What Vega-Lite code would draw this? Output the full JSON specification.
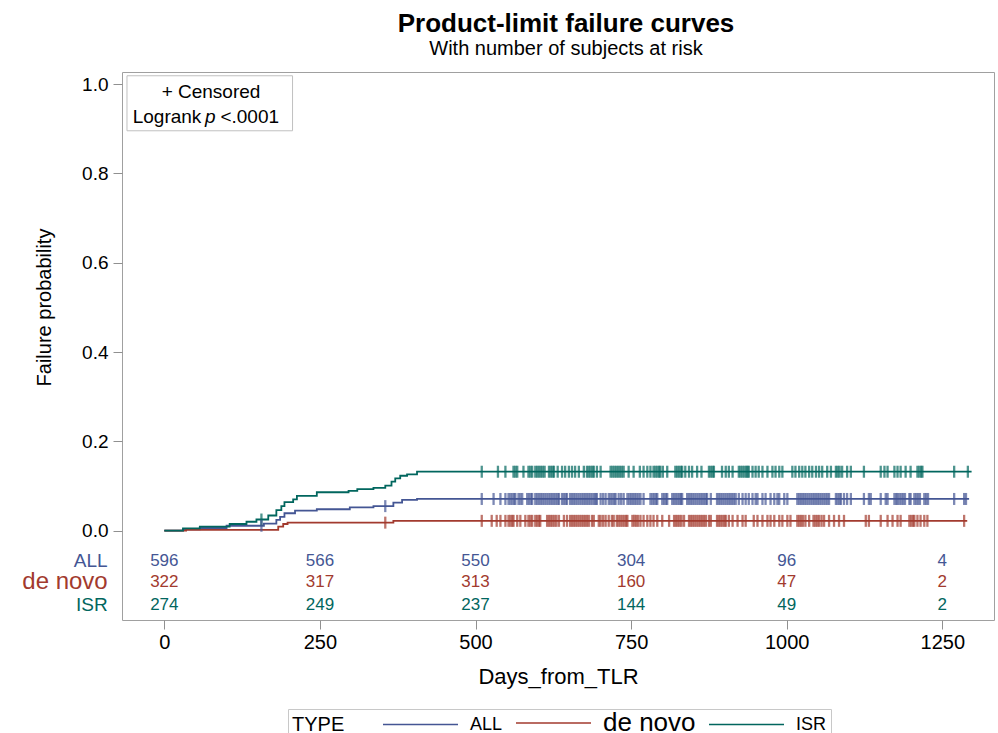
{
  "$schema": "https://vega.github.io/schema/vega-lite/v6.json",
  "autosize": {"type": "none"},
  "padding": {"left": 122, "top": 72, "right": 4, "bottom": 113},
  "width": 872,
  "height": 548,
  "background": "white",
  "title": {
    "text": "Product-limit failure curves",
    "subtitle": "With number of subjects at risk",
    "anchor": "middle",
    "fontSize": 26,
    "fontWeight": "bold",
    "subtitleFontSize": 20,
    "subtitleColor": "black",
    "color": "black",
    "subtitlePadding": 2,
    "offset": 13,
    "dx": 8
  },
  "datasets": {
    "curve": [
      {"g": "ALL", "t": 0, "p": 0}, {"g": "ALL", "t": 30, "p": 0.003}, {"g": "ALL", "t": 57, "p": 0.006},
      {"g": "ALL", "t": 100, "p": 0.011}, {"g": "ALL", "t": 160, "p": 0.016}, {"g": "ALL", "t": 180, "p": 0.024},
      {"g": "ALL", "t": 186, "p": 0.031}, {"g": "ALL", "t": 193, "p": 0.039}, {"g": "ALL", "t": 210, "p": 0.045},
      {"g": "ALL", "t": 245, "p": 0.048}, {"g": "ALL", "t": 298, "p": 0.052}, {"g": "ALL", "t": 336, "p": 0.055},
      {"g": "ALL", "t": 368, "p": 0.063}, {"g": "ALL", "t": 382, "p": 0.069}, {"g": "ALL", "t": 406, "p": 0.071},
      {"g": "ALL", "t": 1293, "p": 0.071},
      {"g": "de novo", "t": 0, "p": 0}, {"g": "de novo", "t": 35, "p": 0.002}, {"g": "de novo", "t": 183, "p": 0.009},
      {"g": "de novo", "t": 191, "p": 0.015}, {"g": "de novo", "t": 198, "p": 0.018}, {"g": "de novo", "t": 368, "p": 0.022},
      {"g": "de novo", "t": 1290, "p": 0.022},
      {"g": "ISR", "t": 0, "p": 0}, {"g": "ISR", "t": 30, "p": 0.005}, {"g": "ISR", "t": 57, "p": 0.009},
      {"g": "ISR", "t": 105, "p": 0.015}, {"g": "ISR", "t": 132, "p": 0.02}, {"g": "ISR", "t": 148, "p": 0.025},
      {"g": "ISR", "t": 167, "p": 0.034}, {"g": "ISR", "t": 180, "p": 0.046}, {"g": "ISR", "t": 188, "p": 0.055},
      {"g": "ISR", "t": 193, "p": 0.064}, {"g": "ISR", "t": 207, "p": 0.07}, {"g": "ISR", "t": 213, "p": 0.078},
      {"g": "ISR", "t": 245, "p": 0.086}, {"g": "ISR", "t": 296, "p": 0.089}, {"g": "ISR", "t": 310, "p": 0.093},
      {"g": "ISR", "t": 336, "p": 0.096}, {"g": "ISR", "t": 355, "p": 0.101}, {"g": "ISR", "t": 365, "p": 0.11},
      {"g": "ISR", "t": 371, "p": 0.117}, {"g": "ISR", "t": 379, "p": 0.123}, {"g": "ISR", "t": 390, "p": 0.126},
      {"g": "ISR", "t": 406, "p": 0.132}, {"g": "ISR", "t": 1297, "p": 0.132}
    ],
    "censor": [
      {"g":"ISR","t":156,"p":0.025},
      {"g":"ISR","t":510,"p":0.132},{"g":"ISR","t":536,"p":0.132},{"g":"ISR","t":548,"p":0.132},{"g":"ISR","t":561,"p":0.132},{"g":"ISR","t":564,"p":0.132},{"g":"ISR","t":567,"p":0.132},{"g":"ISR","t":577,"p":0.132},{"g":"ISR","t":585,"p":0.132},{"g":"ISR","t":588,"p":0.132},{"g":"ISR","t":591,"p":0.132},
      {"g":"ISR","t":596,"p":0.132},{"g":"ISR","t":599,"p":0.132},{"g":"ISR","t":602,"p":0.132},{"g":"ISR","t":605,"p":0.132},{"g":"ISR","t":608,"p":0.132},{"g":"ISR","t":611,"p":0.132},{"g":"ISR","t":618,"p":0.132},{"g":"ISR","t":621,"p":0.132},{"g":"ISR","t":624,"p":0.132},{"g":"ISR","t":626,"p":0.132},
      {"g":"ISR","t":632,"p":0.132},{"g":"ISR","t":639,"p":0.132},{"g":"ISR","t":644,"p":0.132},{"g":"ISR","t":650,"p":0.132},{"g":"ISR","t":655,"p":0.132},{"g":"ISR","t":660,"p":0.132},{"g":"ISR","t":666,"p":0.132},{"g":"ISR","t":674,"p":0.132},{"g":"ISR","t":679,"p":0.132},{"g":"ISR","t":682,"p":0.132},
      {"g":"ISR","t":685,"p":0.132},{"g":"ISR","t":688,"p":0.132},{"g":"ISR","t":690,"p":0.132},{"g":"ISR","t":695,"p":0.132},{"g":"ISR","t":701,"p":0.132},{"g":"ISR","t":717,"p":0.132},{"g":"ISR","t":720,"p":0.132},{"g":"ISR","t":723,"p":0.132},{"g":"ISR","t":726,"p":0.132},{"g":"ISR","t":729,"p":0.132},
      {"g":"ISR","t":732,"p":0.132},{"g":"ISR","t":735,"p":0.132},{"g":"ISR","t":738,"p":0.132},{"g":"ISR","t":746,"p":0.132},{"g":"ISR","t":754,"p":0.132},{"g":"ISR","t":764,"p":0.132},{"g":"ISR","t":770,"p":0.132},{"g":"ISR","t":776,"p":0.132},{"g":"ISR","t":781,"p":0.132},{"g":"ISR","t":786,"p":0.132},
      {"g":"ISR","t":789,"p":0.132},{"g":"ISR","t":792,"p":0.132},{"g":"ISR","t":795,"p":0.132},{"g":"ISR","t":797,"p":0.132},{"g":"ISR","t":801,"p":0.132},{"g":"ISR","t":808,"p":0.132},{"g":"ISR","t":821,"p":0.132},{"g":"ISR","t":824,"p":0.132},{"g":"ISR","t":827,"p":0.132},{"g":"ISR","t":830,"p":0.132},
      {"g":"ISR","t":832,"p":0.132},{"g":"ISR","t":837,"p":0.132},{"g":"ISR","t":843,"p":0.132},{"g":"ISR","t":848,"p":0.132},{"g":"ISR","t":856,"p":0.132},{"g":"ISR","t":863,"p":0.132},{"g":"ISR","t":875,"p":0.132},{"g":"ISR","t":878,"p":0.132},{"g":"ISR","t":881,"p":0.132},{"g":"ISR","t":883,"p":0.132},
      {"g":"ISR","t":896,"p":0.132},{"g":"ISR","t":902,"p":0.132},{"g":"ISR","t":907,"p":0.132},{"g":"ISR","t":913,"p":0.132},{"g":"ISR","t":923,"p":0.132},{"g":"ISR","t":926,"p":0.132},{"g":"ISR","t":929,"p":0.132},{"g":"ISR","t":932,"p":0.132},{"g":"ISR","t":935,"p":0.132},{"g":"ISR","t":937,"p":0.132},
      {"g":"ISR","t":939,"p":0.132},{"g":"ISR","t":945,"p":0.132},{"g":"ISR","t":950,"p":0.132},{"g":"ISR","t":955,"p":0.132},{"g":"ISR","t":961,"p":0.132},{"g":"ISR","t":969,"p":0.132},{"g":"ISR","t":977,"p":0.132},{"g":"ISR","t":982,"p":0.132},{"g":"ISR","t":988,"p":0.132},{"g":"ISR","t":993,"p":0.132},
      {"g":"ISR","t":1009,"p":0.132},{"g":"ISR","t":1014,"p":0.132},{"g":"ISR","t":1020,"p":0.132},{"g":"ISR","t":1025,"p":0.132},{"g":"ISR","t":1030,"p":0.132},{"g":"ISR","t":1036,"p":0.132},{"g":"ISR","t":1041,"p":0.132},{"g":"ISR","t":1047,"p":0.132},{"g":"ISR","t":1052,"p":0.132},{"g":"ISR","t":1057,"p":0.132},
      {"g":"ISR","t":1065,"p":0.132},{"g":"ISR","t":1071,"p":0.132},{"g":"ISR","t":1079,"p":0.132},{"g":"ISR","t":1082,"p":0.132},{"g":"ISR","t":1085,"p":0.132},{"g":"ISR","t":1089,"p":0.132},{"g":"ISR","t":1097,"p":0.132},{"g":"ISR","t":1103,"p":0.132},{"g":"ISR","t":1124,"p":0.132},{"g":"ISR","t":1151,"p":0.132},
      {"g":"ISR","t":1157,"p":0.132},{"g":"ISR","t":1162,"p":0.132},{"g":"ISR","t":1173,"p":0.132},{"g":"ISR","t":1178,"p":0.132},{"g":"ISR","t":1183,"p":0.132},{"g":"ISR","t":1191,"p":0.132},{"g":"ISR","t":1199,"p":0.132},{"g":"ISR","t":1210,"p":0.132},{"g":"ISR","t":1213,"p":0.132},{"g":"ISR","t":1216,"p":0.132},
      {"g":"ISR","t":1218,"p":0.132},{"g":"ISR","t":1269,"p":0.132},{"g":"ISR","t":1291,"p":0.132},
      {"g":"ALL","t":156,"p":0.011},{"g":"ALL","t":355,"p":0.055},
      {"g":"ALL","t":510,"p":0.071},{"g":"ALL","t":529,"p":0.071},{"g":"ALL","t":540,"p":0.071},{"g":"ALL","t":548,"p":0.071},{"g":"ALL","t":553,"p":0.071},{"g":"ALL","t":556,"p":0.071},{"g":"ALL","t":559,"p":0.071},{"g":"ALL","t":562,"p":0.071},{"g":"ALL","t":564,"p":0.071},{"g":"ALL","t":569,"p":0.071},
      {"g":"ALL","t":572,"p":0.071},{"g":"ALL","t":575,"p":0.071},{"g":"ALL","t":583,"p":0.071},{"g":"ALL","t":586,"p":0.071},{"g":"ALL","t":589,"p":0.071},{"g":"ALL","t":591,"p":0.071},{"g":"ALL","t":596,"p":0.071},{"g":"ALL","t":599,"p":0.071},{"g":"ALL","t":602,"p":0.071},{"g":"ALL","t":605,"p":0.071},
      {"g":"ALL","t":608,"p":0.071},{"g":"ALL","t":611,"p":0.071},{"g":"ALL","t":614,"p":0.071},{"g":"ALL","t":617,"p":0.071},{"g":"ALL","t":620,"p":0.071},{"g":"ALL","t":623,"p":0.071},{"g":"ALL","t":626,"p":0.071},{"g":"ALL","t":629,"p":0.071},{"g":"ALL","t":632,"p":0.071},{"g":"ALL","t":634,"p":0.071},
      {"g":"ALL","t":639,"p":0.071},{"g":"ALL","t":642,"p":0.071},{"g":"ALL","t":645,"p":0.071},{"g":"ALL","t":647,"p":0.071},{"g":"ALL","t":652,"p":0.071},{"g":"ALL","t":655,"p":0.071},{"g":"ALL","t":658,"p":0.071},{"g":"ALL","t":661,"p":0.071},{"g":"ALL","t":664,"p":0.071},{"g":"ALL","t":667,"p":0.071},
      {"g":"ALL","t":670,"p":0.071},{"g":"ALL","t":673,"p":0.071},{"g":"ALL","t":676,"p":0.071},{"g":"ALL","t":679,"p":0.071},{"g":"ALL","t":682,"p":0.071},{"g":"ALL","t":685,"p":0.071},{"g":"ALL","t":688,"p":0.071},{"g":"ALL","t":691,"p":0.071},{"g":"ALL","t":693,"p":0.071},{"g":"ALL","t":695,"p":0.071},
      {"g":"ALL","t":701,"p":0.071},{"g":"ALL","t":705,"p":0.071},{"g":"ALL","t":709,"p":0.071},{"g":"ALL","t":714,"p":0.071},{"g":"ALL","t":717,"p":0.071},{"g":"ALL","t":720,"p":0.071},{"g":"ALL","t":723,"p":0.071},{"g":"ALL","t":725,"p":0.071},{"g":"ALL","t":730,"p":0.071},{"g":"ALL","t":734,"p":0.071},
      {"g":"ALL","t":738,"p":0.071},{"g":"ALL","t":744,"p":0.071},{"g":"ALL","t":747,"p":0.071},{"g":"ALL","t":750,"p":0.071},{"g":"ALL","t":753,"p":0.071},{"g":"ALL","t":756,"p":0.071},{"g":"ALL","t":759,"p":0.071},{"g":"ALL","t":762,"p":0.071},{"g":"ALL","t":765,"p":0.071},{"g":"ALL","t":770,"p":0.071},
      {"g":"ALL","t":781,"p":0.071},{"g":"ALL","t":784,"p":0.071},{"g":"ALL","t":787,"p":0.071},{"g":"ALL","t":790,"p":0.071},{"g":"ALL","t":792,"p":0.071},{"g":"ALL","t":800,"p":0.071},{"g":"ALL","t":803,"p":0.071},{"g":"ALL","t":806,"p":0.071},{"g":"ALL","t":808,"p":0.071},{"g":"ALL","t":816,"p":0.071},
      {"g":"ALL","t":819,"p":0.071},{"g":"ALL","t":822,"p":0.071},{"g":"ALL","t":825,"p":0.071},{"g":"ALL","t":828,"p":0.071},{"g":"ALL","t":830,"p":0.071},{"g":"ALL","t":832,"p":0.071},{"g":"ALL","t":840,"p":0.071},{"g":"ALL","t":843,"p":0.071},{"g":"ALL","t":846,"p":0.071},{"g":"ALL","t":849,"p":0.071},
      {"g":"ALL","t":852,"p":0.071},{"g":"ALL","t":855,"p":0.071},{"g":"ALL","t":858,"p":0.071},{"g":"ALL","t":861,"p":0.071},{"g":"ALL","t":864,"p":0.071},{"g":"ALL","t":867,"p":0.071},{"g":"ALL","t":870,"p":0.071},{"g":"ALL","t":872,"p":0.071},{"g":"ALL","t":878,"p":0.071},{"g":"ALL","t":888,"p":0.071},
      {"g":"ALL","t":891,"p":0.071},{"g":"ALL","t":894,"p":0.071},{"g":"ALL","t":897,"p":0.071},{"g":"ALL","t":900,"p":0.071},{"g":"ALL","t":903,"p":0.071},{"g":"ALL","t":906,"p":0.071},{"g":"ALL","t":909,"p":0.071},{"g":"ALL","t":912,"p":0.071},{"g":"ALL","t":915,"p":0.071},{"g":"ALL","t":918,"p":0.071},
      {"g":"ALL","t":923,"p":0.071},{"g":"ALL","t":929,"p":0.071},{"g":"ALL","t":934,"p":0.071},{"g":"ALL","t":939,"p":0.071},{"g":"ALL","t":945,"p":0.071},{"g":"ALL","t":950,"p":0.071},{"g":"ALL","t":953,"p":0.071},{"g":"ALL","t":961,"p":0.071},{"g":"ALL","t":966,"p":0.071},{"g":"ALL","t":974,"p":0.071},
      {"g":"ALL","t":980,"p":0.071},{"g":"ALL","t":985,"p":0.071},{"g":"ALL","t":988,"p":0.071},{"g":"ALL","t":996,"p":0.071},{"g":"ALL","t":1001,"p":0.071},{"g":"ALL","t":1017,"p":0.071},{"g":"ALL","t":1020,"p":0.071},{"g":"ALL","t":1023,"p":0.071},{"g":"ALL","t":1026,"p":0.071},{"g":"ALL","t":1029,"p":0.071},
      {"g":"ALL","t":1032,"p":0.071},{"g":"ALL","t":1035,"p":0.071},{"g":"ALL","t":1038,"p":0.071},{"g":"ALL","t":1041,"p":0.071},{"g":"ALL","t":1044,"p":0.071},{"g":"ALL","t":1047,"p":0.071},{"g":"ALL","t":1050,"p":0.071},{"g":"ALL","t":1053,"p":0.071},{"g":"ALL","t":1056,"p":0.071},{"g":"ALL","t":1059,"p":0.071},
      {"g":"ALL","t":1062,"p":0.071},{"g":"ALL","t":1065,"p":0.071},{"g":"ALL","t":1068,"p":0.071},{"g":"ALL","t":1079,"p":0.071},{"g":"ALL","t":1082,"p":0.071},{"g":"ALL","t":1085,"p":0.071},{"g":"ALL","t":1087,"p":0.071},{"g":"ALL","t":1092,"p":0.071},{"g":"ALL","t":1097,"p":0.071},{"g":"ALL","t":1103,"p":0.071},
      {"g":"ALL","t":1124,"p":0.071},{"g":"ALL","t":1132,"p":0.071},{"g":"ALL","t":1135,"p":0.071},{"g":"ALL","t":1151,"p":0.071},{"g":"ALL","t":1159,"p":0.071},{"g":"ALL","t":1162,"p":0.071},{"g":"ALL","t":1173,"p":0.071},{"g":"ALL","t":1176,"p":0.071},{"g":"ALL","t":1178,"p":0.071},{"g":"ALL","t":1181,"p":0.071},
      {"g":"ALL","t":1184,"p":0.071},{"g":"ALL","t":1187,"p":0.071},{"g":"ALL","t":1190,"p":0.071},{"g":"ALL","t":1197,"p":0.071},{"g":"ALL","t":1199,"p":0.071},{"g":"ALL","t":1205,"p":0.071},{"g":"ALL","t":1208,"p":0.071},{"g":"ALL","t":1211,"p":0.071},{"g":"ALL","t":1214,"p":0.071},{"g":"ALL","t":1221,"p":0.071},
      {"g":"ALL","t":1224,"p":0.071},{"g":"ALL","t":1227,"p":0.071},{"g":"ALL","t":1269,"p":0.071},{"g":"ALL","t":1285,"p":0.071},{"g":"ALL","t":1288,"p":0.071},
      {"g":"de novo","t":355,"p":0.018},
      {"g":"de novo","t":510,"p":0.022},{"g":"de novo","t":526,"p":0.022},{"g":"de novo","t":534,"p":0.022},{"g":"de novo","t":540,"p":0.022},{"g":"de novo","t":548,"p":0.022},{"g":"de novo","t":553,"p":0.022},{"g":"de novo","t":556,"p":0.022},{"g":"de novo","t":559,"p":0.022},{"g":"de novo","t":561,"p":0.022},{"g":"de novo","t":567,"p":0.022},
      {"g":"de novo","t":572,"p":0.022},{"g":"de novo","t":580,"p":0.022},{"g":"de novo","t":585,"p":0.022},{"g":"de novo","t":588,"p":0.022},{"g":"de novo","t":591,"p":0.022},{"g":"de novo","t":596,"p":0.022},{"g":"de novo","t":599,"p":0.022},{"g":"de novo","t":602,"p":0.022},{"g":"de novo","t":604,"p":0.022},{"g":"de novo","t":615,"p":0.022},
      {"g":"de novo","t":618,"p":0.022},{"g":"de novo","t":621,"p":0.022},{"g":"de novo","t":624,"p":0.022},{"g":"de novo","t":627,"p":0.022},{"g":"de novo","t":630,"p":0.022},{"g":"de novo","t":634,"p":0.022},{"g":"de novo","t":642,"p":0.022},{"g":"de novo","t":647,"p":0.022},{"g":"de novo","t":652,"p":0.022},{"g":"de novo","t":655,"p":0.022},
      {"g":"de novo","t":658,"p":0.022},{"g":"de novo","t":661,"p":0.022},{"g":"de novo","t":664,"p":0.022},{"g":"de novo","t":667,"p":0.022},{"g":"de novo","t":670,"p":0.022},{"g":"de novo","t":673,"p":0.022},{"g":"de novo","t":676,"p":0.022},{"g":"de novo","t":679,"p":0.022},{"g":"de novo","t":682,"p":0.022},{"g":"de novo","t":687,"p":0.022},
      {"g":"de novo","t":690,"p":0.022},{"g":"de novo","t":698,"p":0.022},{"g":"de novo","t":701,"p":0.022},{"g":"de novo","t":705,"p":0.022},{"g":"de novo","t":709,"p":0.022},{"g":"de novo","t":714,"p":0.022},{"g":"de novo","t":719,"p":0.022},{"g":"de novo","t":722,"p":0.022},{"g":"de novo","t":727,"p":0.022},{"g":"de novo","t":730,"p":0.022},
      {"g":"de novo","t":733,"p":0.022},{"g":"de novo","t":736,"p":0.022},{"g":"de novo","t":739,"p":0.022},{"g":"de novo","t":742,"p":0.022},{"g":"de novo","t":744,"p":0.022},{"g":"de novo","t":752,"p":0.022},{"g":"de novo","t":755,"p":0.022},{"g":"de novo","t":758,"p":0.022},{"g":"de novo","t":761,"p":0.022},{"g":"de novo","t":765,"p":0.022},
      {"g":"de novo","t":770,"p":0.022},{"g":"de novo","t":776,"p":0.022},{"g":"de novo","t":781,"p":0.022},{"g":"de novo","t":786,"p":0.022},{"g":"de novo","t":792,"p":0.022},{"g":"de novo","t":800,"p":0.022},{"g":"de novo","t":811,"p":0.022},{"g":"de novo","t":819,"p":0.022},{"g":"de novo","t":822,"p":0.022},{"g":"de novo","t":825,"p":0.022},
      {"g":"de novo","t":828,"p":0.022},{"g":"de novo","t":831,"p":0.022},{"g":"de novo","t":835,"p":0.022},{"g":"de novo","t":843,"p":0.022},{"g":"de novo","t":846,"p":0.022},{"g":"de novo","t":849,"p":0.022},{"g":"de novo","t":852,"p":0.022},{"g":"de novo","t":855,"p":0.022},{"g":"de novo","t":858,"p":0.022},{"g":"de novo","t":861,"p":0.022},
      {"g":"de novo","t":864,"p":0.022},{"g":"de novo","t":867,"p":0.022},{"g":"de novo","t":870,"p":0.022},{"g":"de novo","t":875,"p":0.022},{"g":"de novo","t":878,"p":0.022},{"g":"de novo","t":888,"p":0.022},{"g":"de novo","t":891,"p":0.022},{"g":"de novo","t":894,"p":0.022},{"g":"de novo","t":897,"p":0.022},{"g":"de novo","t":900,"p":0.022},
      {"g":"de novo","t":902,"p":0.022},{"g":"de novo","t":907,"p":0.022},{"g":"de novo","t":913,"p":0.022},{"g":"de novo","t":921,"p":0.022},{"g":"de novo","t":929,"p":0.022},{"g":"de novo","t":934,"p":0.022},{"g":"de novo","t":947,"p":0.022},{"g":"de novo","t":953,"p":0.022},{"g":"de novo","t":961,"p":0.022},{"g":"de novo","t":969,"p":0.022},
      {"g":"de novo","t":974,"p":0.022},{"g":"de novo","t":980,"p":0.022},{"g":"de novo","t":988,"p":0.022},{"g":"de novo","t":993,"p":0.022},{"g":"de novo","t":1001,"p":0.022},{"g":"de novo","t":1006,"p":0.022},{"g":"de novo","t":1017,"p":0.022},{"g":"de novo","t":1020,"p":0.022},{"g":"de novo","t":1023,"p":0.022},{"g":"de novo","t":1026,"p":0.022},
      {"g":"de novo","t":1030,"p":0.022},{"g":"de novo","t":1036,"p":0.022},{"g":"de novo","t":1043,"p":0.022},{"g":"de novo","t":1046,"p":0.022},{"g":"de novo","t":1049,"p":0.022},{"g":"de novo","t":1052,"p":0.022},{"g":"de novo","t":1056,"p":0.022},{"g":"de novo","t":1060,"p":0.022},{"g":"de novo","t":1068,"p":0.022},{"g":"de novo","t":1076,"p":0.022},
      {"g":"de novo","t":1084,"p":0.022},{"g":"de novo","t":1092,"p":0.022},{"g":"de novo","t":1127,"p":0.022},{"g":"de novo","t":1132,"p":0.022},{"g":"de novo","t":1151,"p":0.022},{"g":"de novo","t":1162,"p":0.022},{"g":"de novo","t":1170,"p":0.022},{"g":"de novo","t":1178,"p":0.022},{"g":"de novo","t":1183,"p":0.022},{"g":"de novo","t":1197,"p":0.022},
      {"g":"de novo","t":1200,"p":0.022},{"g":"de novo","t":1203,"p":0.022},{"g":"de novo","t":1205,"p":0.022},{"g":"de novo","t":1210,"p":0.022},{"g":"de novo","t":1215,"p":0.022},{"g":"de novo","t":1221,"p":0.022},{"g":"de novo","t":1226,"p":0.022},{"g":"de novo","t":1285,"p":0.022}
    ],
    "risk": [
      {"g": "ALL", "t": 0, "n": 596}, {"g": "ALL", "t": 250, "n": 566}, {"g": "ALL", "t": 500, "n": 550},
      {"g": "ALL", "t": 750, "n": 304}, {"g": "ALL", "t": 1000, "n": 96}, {"g": "ALL", "t": 1250, "n": 4},
      {"g": "de novo", "t": 0, "n": 322}, {"g": "de novo", "t": 250, "n": 317}, {"g": "de novo", "t": 500, "n": 313},
      {"g": "de novo", "t": 750, "n": 160}, {"g": "de novo", "t": 1000, "n": 47}, {"g": "de novo", "t": 1250, "n": 2},
      {"g": "ISR", "t": 0, "n": 274}, {"g": "ISR", "t": 250, "n": 249}, {"g": "ISR", "t": 500, "n": 237},
      {"g": "ISR", "t": 750, "n": 144}, {"g": "ISR", "t": 1000, "n": 49}, {"g": "ISR", "t": 1250, "n": 2}
    ],
    "groups": [{"g": "ALL"}, {"g": "de novo"}, {"g": "ISR"}],
    "note": [{"a": "+ Censored", "b": "Logrank", "c": "p", "d": "<.0001"}]
  },
  "layer": [
    {
      "data": {"name": "curve"},
      "mark": {"type": "line", "interpolate": "step-after", "strokeWidth": 1.8},
      "encoding": {
        "x": {
          "field": "t", "type": "quantitative",
          "scale": {"domain": [-68, 1333], "nice": false, "zero": false},
          "axis": {
            "title": "Days_from_TLR", "values": [0, 250, 500, 750, 1000, 1250], "format": "d",
            "domain": false, "grid": false, "tickSize": 9, "labelPadding": 3,
            "labelFontSize": 20, "titleFontSize": 22, "titleFontWeight": "normal", "titlePadding": 14,
            "labelFlush": false
          }
        },
        "y": {
          "field": "p", "type": "quantitative",
          "scale": {"domain": [-0.2, 1.027], "nice": false, "zero": false},
          "axis": {
            "title": "Failure probability", "values": [0, 0.2, 0.4, 0.6, 0.8, 1.0], "format": ".1f",
            "domain": false, "grid": false, "tickSize": 9, "labelPadding": 5,
            "labelFontSize": 19, "titleFontSize": 20, "titleFontWeight": "normal",
            "titleX": -68, "titleY": 235, "labelFlush": false
          }
        },
        "color": {
          "field": "g", "type": "nominal",
          "scale": {"domain": ["ALL", "de novo", "ISR"], "range": ["#445694", "#A23A2E", "#01665E"]},
          "legend": {
            "orient": "none", "legendX": 166, "legendY": 637, "direction": "horizontal",
            "title": "TYPE", "titleOrient": "left", "titleFontSize": 20, "titleFontWeight": "normal",
            "titleColor": "black", "titlePadding": 37, "titleBaseline": "middle", "labelFontSize": 18, "labelColor": "black",
            "labelOffset": 11, "symbolType": "stroke", "symbolSize": 5625, "symbolStrokeWidth": 1.5,
            "clipHeight": 20,
            "columnPadding": 12, "padding": 4, "strokeColor": "#c8c8c8", "fillColor": "white",
            "labelLimit": 300,
            "encode": {"labels": {"update": {"fontSize": {"signal": "datum.label === 'de novo' ? 26 : 18"}}}}
          }
        }
      }
    },
    {
      "data": {"name": "censor"},
      "mark": {"type": "tick", "orient": "vertical", "size": 12, "thickness": 2.3},
      "encoding": {
        "x": {"field": "t", "type": "quantitative"},
        "y": {"field": "p", "type": "quantitative"},
        "color": {"field": "g", "type": "nominal", "legend": null}
      }
    },
    {
      "data": {"name": "note"},
      "mark": {"type": "rect", "fill": "white", "stroke": "#c0c0c0", "strokeWidth": 1},
      "encoding": {
        "x": {"datum": -60, "type": "quantitative"}, "x2": {"datum": 206},
        "y": {"datum": 1.0186, "type": "quantitative"}, "y2": {"datum": 0.8954}
      }
    },
    {
      "data": {"name": "note"},
      "mark": {"type": "text", "fontSize": 19, "color": "black", "align": "center", "baseline": "middle"},
      "encoding": {"x": {"datum": 75, "type": "quantitative"}, "y": {"datum": 0.982, "type": "quantitative"}, "text": {"field": "a"}}
    },
    {
      "data": {"name": "note"},
      "mark": {"type": "text", "fontSize": 19, "color": "black", "align": "right", "baseline": "middle", "dx": -9},
      "encoding": {"x": {"datum": 74, "type": "quantitative"}, "y": {"datum": 0.926, "type": "quantitative"}, "text": {"field": "b"}}
    },
    {
      "data": {"name": "note"},
      "mark": {"type": "text", "fontSize": 19, "fontStyle": "italic", "color": "black", "align": "center", "baseline": "middle"},
      "encoding": {"x": {"datum": 74, "type": "quantitative"}, "y": {"datum": 0.926, "type": "quantitative"}, "text": {"field": "c"}}
    },
    {
      "data": {"name": "note"},
      "mark": {"type": "text", "fontSize": 19, "color": "black", "align": "left", "baseline": "middle", "dx": 10},
      "encoding": {"x": {"datum": 74, "type": "quantitative"}, "y": {"datum": 0.926, "type": "quantitative"}, "text": {"field": "d"}}
    },
    {
      "data": {"name": "risk"},
      "transform": [{"filter": "datum.g === 'ALL'"}],
      "mark": {"type": "text", "fontSize": 17, "align": "center", "baseline": "middle"},
      "encoding": {
        "x": {"field": "t", "type": "quantitative"},
        "y": {"datum": -0.068, "type": "quantitative"},
        "text": {"field": "n"},
        "color": {"field": "g", "type": "nominal", "legend": null}
      }
    },
    {
      "data": {"name": "risk"},
      "transform": [{"filter": "datum.g === 'de novo'"}],
      "mark": {"type": "text", "fontSize": 17, "align": "center", "baseline": "middle"},
      "encoding": {
        "x": {"field": "t", "type": "quantitative"},
        "y": {"datum": -0.116, "type": "quantitative"},
        "text": {"field": "n"},
        "color": {"field": "g", "type": "nominal", "legend": null}
      }
    },
    {
      "data": {"name": "risk"},
      "transform": [{"filter": "datum.g === 'ISR'"}],
      "mark": {"type": "text", "fontSize": 17, "align": "center", "baseline": "middle"},
      "encoding": {
        "x": {"field": "t", "type": "quantitative"},
        "y": {"datum": -0.167, "type": "quantitative"},
        "text": {"field": "n"},
        "color": {"field": "g", "type": "nominal", "legend": null}
      }
    },
    {
      "data": {"name": "groups"},
      "transform": [{"filter": "datum.g === 'ALL'"}],
      "mark": {"type": "text", "fontSize": 19, "align": "right", "baseline": "middle"},
      "encoding": {
        "x": {"datum": -91, "type": "quantitative"},
        "y": {"datum": -0.068, "type": "quantitative"},
        "text": {"field": "g"},
        "color": {"field": "g", "type": "nominal", "legend": null}
      }
    },
    {
      "data": {"name": "groups"},
      "transform": [{"filter": "datum.g === 'de novo'"}],
      "mark": {"type": "text", "fontSize": 24, "align": "right", "baseline": "middle"},
      "encoding": {
        "x": {"datum": -91, "type": "quantitative"},
        "y": {"datum": -0.116, "type": "quantitative"},
        "text": {"field": "g"},
        "color": {"field": "g", "type": "nominal", "legend": null}
      }
    },
    {
      "data": {"name": "groups"},
      "transform": [{"filter": "datum.g === 'ISR'"}],
      "mark": {"type": "text", "fontSize": 19, "align": "right", "baseline": "middle"},
      "encoding": {
        "x": {"datum": -91, "type": "quantitative"},
        "y": {"datum": -0.167, "type": "quantitative"},
        "text": {"field": "g"},
        "color": {"field": "g", "type": "nominal", "legend": null}
      }
    }
  ],
  "config": {
    "font": "Liberation Sans",
    "view": {"stroke": "#a0a0a0", "strokeWidth": 1},
    "axis": {"labelColor": "black", "titleColor": "black", "tickColor": "#909090"}
  }
}
